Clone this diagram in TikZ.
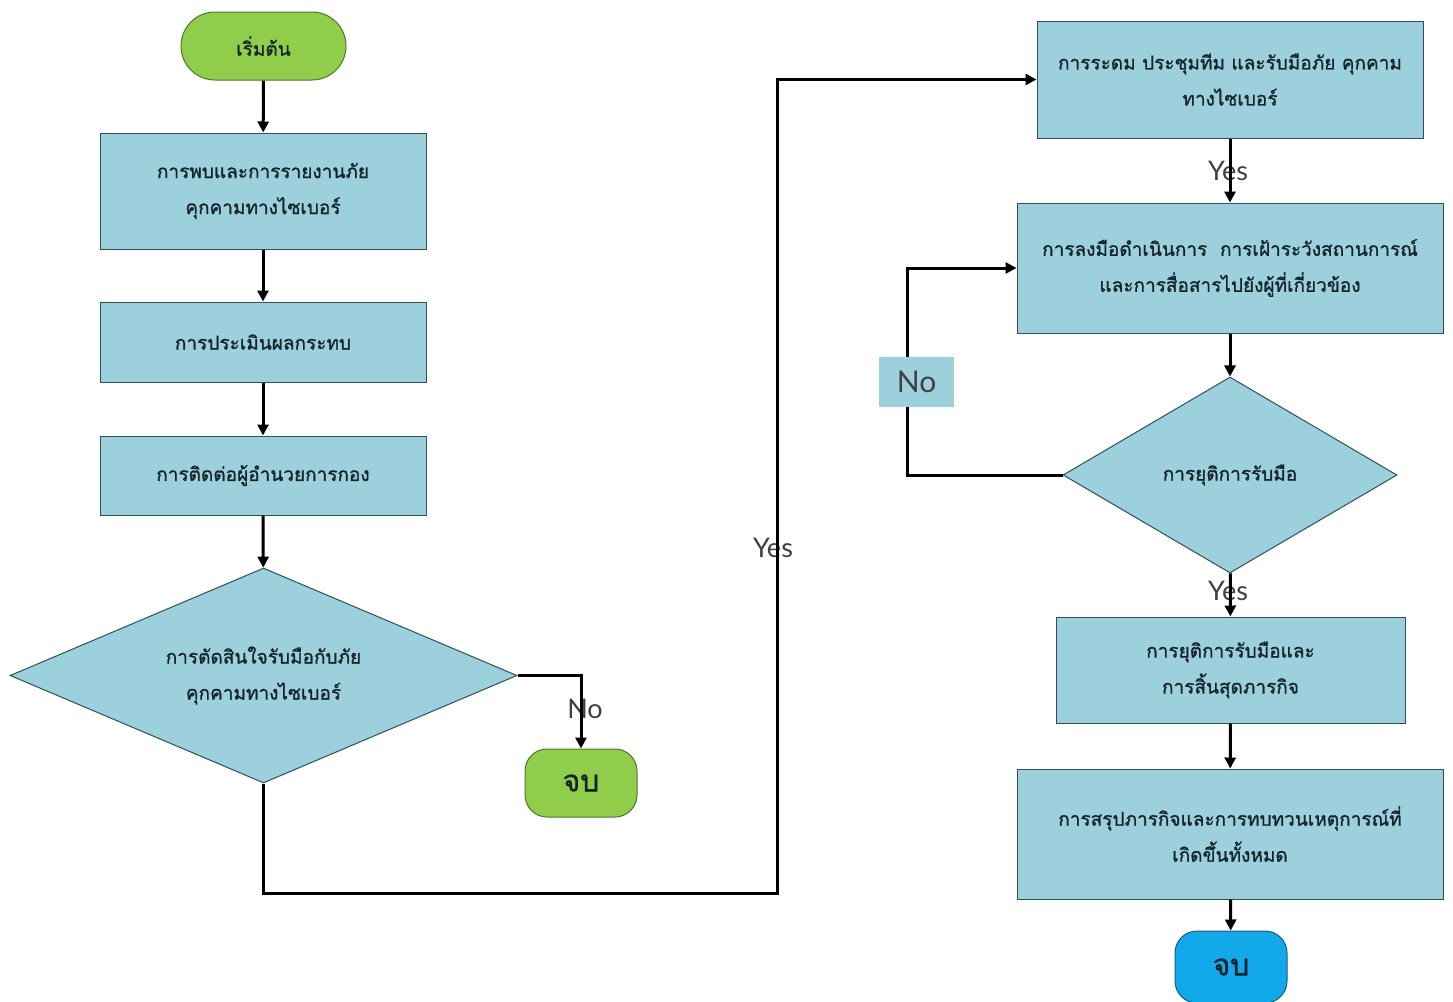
\documentclass[tikz,border=0pt]{standalone}
\usepackage{fontspec}
\newfontfamily\thaifont[Script=Thai,FakeBold=1]{Loma}
\newfontfamily\labfont{Lato}
\usetikzlibrary{shapes.geometric,shapes.misc,arrows.meta}
\definecolor{boxfill}{HTML}{9CD0DC}
\definecolor{boxdraw}{HTML}{2E4F5C}
\definecolor{greenfill}{HTML}{8FCD4A}
\definecolor{greendraw}{HTML}{4C7A2C}
\definecolor{bluefill}{HTML}{12A9EA}
\definecolor{bluedraw}{HTML}{1E5B7A}
\definecolor{txt}{HTML}{15232B}
\tikzset{
  procbox/.style={rectangle,draw=boxdraw,fill=boxfill,line width=1pt,align=center,
    font=\thaifont\fontsize{19}{36}\selectfont,text=txt,inner sep=0pt},
  decbox/.style={diamond,draw=boxdraw,fill=boxfill,line width=1pt,align=center,
    font=\thaifont\fontsize{19}{36}\selectfont,text=txt,inner sep=0pt},
  termgreen/.style={rounded rectangle,draw=greendraw,fill=greenfill,line width=1pt,
    font=\thaifont\fontsize{19}{24}\selectfont,text=txt,inner sep=0pt},
  endbox/.style={rectangle,rounded corners=22pt,line width=1pt,
    font=\thaifont\fontsize{30}{32}\selectfont,text=txt,inner sep=0pt},
  arr/.style={line width=3pt,-{Triangle[length=11pt,width=11pt]}},
  lbl/.style={font=\labfont\fontsize{27}{30}\selectfont,text=black!75,inner sep=0pt},
  nobox/.style={fill=boxfill,font=\labfont\fontsize{30}{32}\selectfont,text=black!75,
    minimum width=75pt,minimum height=50pt,inner sep=0pt}
}
\begin{document}
\begin{tikzpicture}[x=1pt,y=-1pt]
\useasboundingbox (0,0) rectangle (1453,1001);
\fill[white] (0,0) rectangle (1453,1001);
% left column
\node[termgreen,minimum width=165pt,minimum height=68pt] (start) at (263.5,46) {เริ่มต้น};
\node[procbox,minimum width=326pt,minimum height=116pt] (b1) at (263,191) {การพบและการรายงานภัย\\คุกคามทางไซเบอร์};
\node[procbox,minimum width=326pt,minimum height=80pt] (b2) at (263,342) {การประเมินผลกระทบ};
\node[procbox,minimum width=326pt,minimum height=79pt] (b3) at (263,475.5) {การติดต่อผู้อำนวยการกอง};
\node[decbox,aspect=2.36,minimum width=507pt,minimum height=215pt] (d1) at (263.5,675.5) {การตัดสินใจรับมือกับภัย\\คุกคามทางไซเบอร์};
\node[endbox,draw=greendraw,fill=greenfill,minimum width=112pt,minimum height=68pt] (end1) at (581,783) {จบ};
% right column
\node[procbox,minimum width=386pt,minimum height=117pt] (r1) at (1230,79.5) {การระดม ประชุมทีม และรับมือภัย คุกคาม\\ทางไซเบอร์};
\node[procbox,minimum width=426pt,minimum height=130pt] (r2) at (1230,268) {การลงมือดำเนินการ \ การเฝ้าระวังสถานการณ์\\และการสื่อสารไปยังผู้ที่เกี่ยวข้อง};
\node[decbox,aspect=1.7,minimum width=334pt,minimum height=196pt] (d2) at (1230,475) {การยุติการรับมือ};
\node[procbox,minimum width=349pt,minimum height=106pt] (r3) at (1230.5,670) {การยุติการรับมือและ\\การสิ้นสุดภารกิจ};
\node[procbox,minimum width=426pt,minimum height=130pt] (r4) at (1230,834) {การสรุปภารกิจและการทบทวนเหตุการณ์ที่\\เกิดขึ้นทั้งหมด};
\node[endbox,draw=bluedraw,fill=bluefill,minimum width=112pt,minimum height=72pt] (end2) at (1231,967) {จบ};
% labels under lines
\node[lbl] (yes1) at (773,548) {Yes};
\node[lbl] (yes2) at (1228,171) {Yes};
\node[lbl] (yes3) at (1228,591) {Yes};
\node[lbl] (no1) at (585,709) {No};
% connectors
\coordinate (c1) at (777,893);
\coordinate (c2) at (907,475);
\draw[arr] (start) -- (b1);
\draw[arr] (b1) -- (b2);
\draw[arr] (b2) -- (b3);
\draw[arr] (b3) -- (d1);
\draw[arr] (d1.east) -| (end1.north);
\draw[arr] (d1.south) |- (c1) |- (r1.west);
\draw[arr] (r1) -- (r2);
\draw[arr] (r2) -- (d2);
\draw[arr] (d2.west) -- (c2) |- (r2.west);
\draw[arr] (d2) -- (r3);
\draw[arr] (r3) -- (r4);
\draw[arr] (r4) -- (end2);
\node[nobox] (no2) at (916.5,382) {No};
\end{tikzpicture}
\end{document}
